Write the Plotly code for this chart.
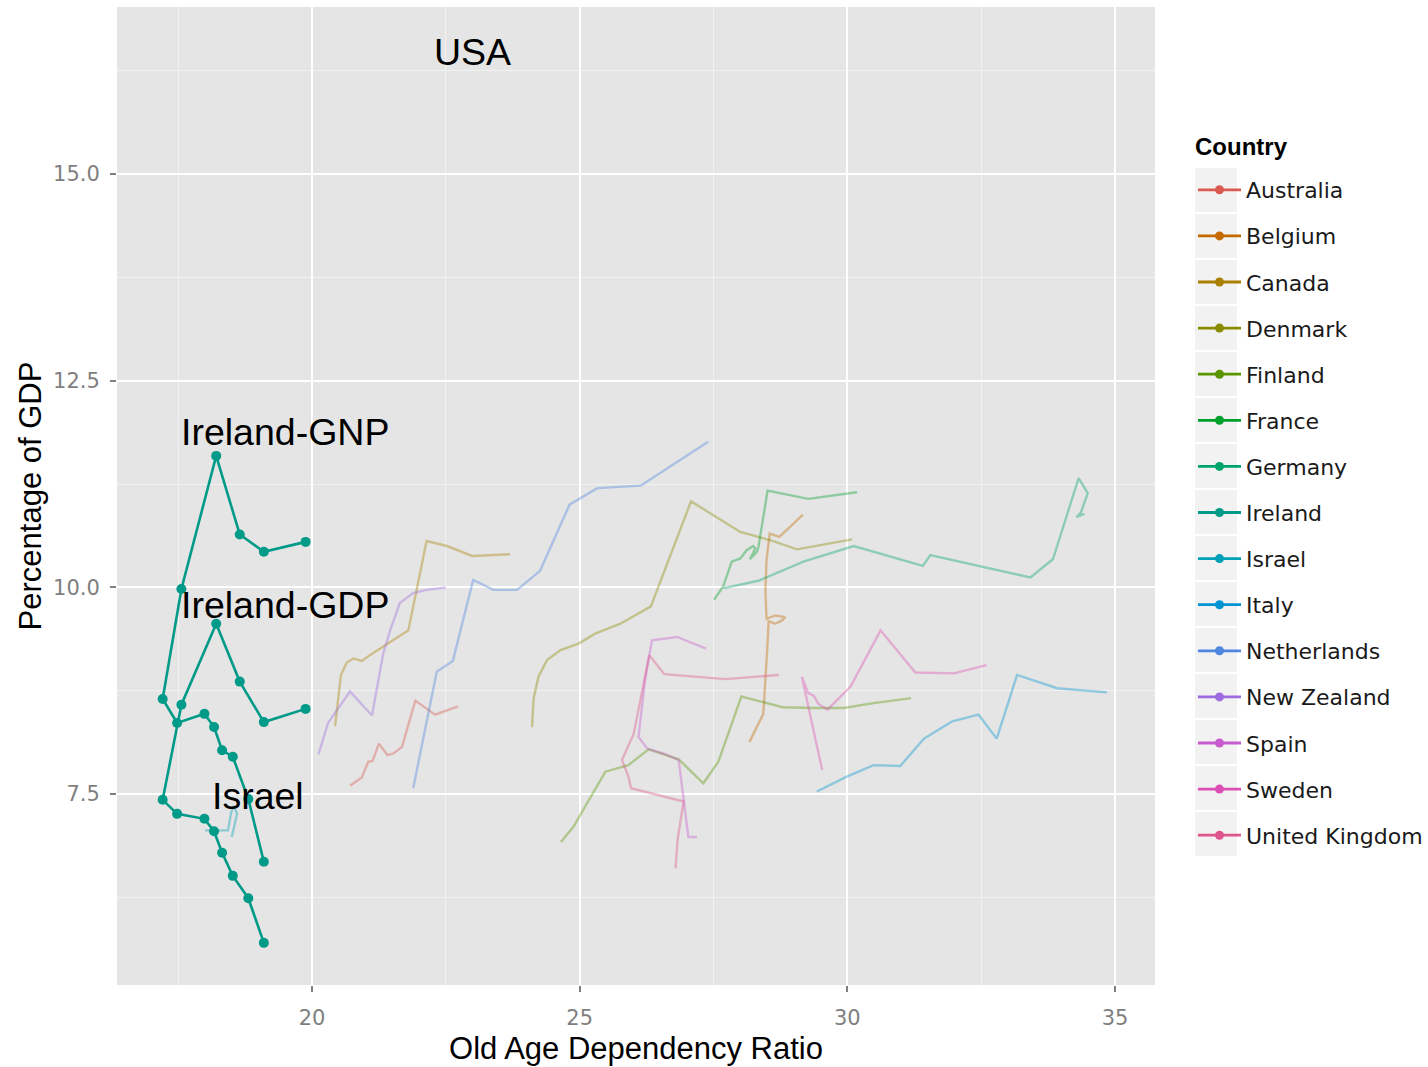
import plotly.graph_objects as go

# ---- data: old-age dependency ratio (x) vs social spending, % of GDP (y) ----
COUNTRIES = ["Australia", "Belgium", "Canada", "Denmark", "Finland", "France",
             "Germany", "Ireland", "Israel", "Italy", "Netherlands",
             "New Zealand", "Spain", "Sweden", "United Kingdom"]

AUS_X = [20.71, 20.93, 21.05, 21.13, 21.25, 21.41, 21.52, 21.68, 21.93, 22.30, 22.73]
AUS_Y = [7.60, 7.70, 7.89, 7.90, 8.11, 7.97, 7.99, 8.07, 8.63, 8.46, 8.56]

BEL_X = [28.17, 28.43, 28.50, 28.53, 28.65, 28.78, 28.84, 28.65, 28.49, 28.47, 28.49, 28.55, 28.73, 29.17]
BEL_Y = [8.13, 8.47, 9.22, 9.59, 9.56, 9.60, 9.64, 9.66, 9.62, 9.97, 10.33, 10.65, 10.61, 10.88]

CAN_X = [20.43, 20.54, 20.65, 20.77, 20.93, 21.08, 21.80, 22.14, 22.52, 22.99, 23.70]
CAN_Y = [8.32, 8.94, 9.09, 9.14, 9.11, 9.18, 9.48, 10.56, 10.50, 10.38, 10.40]

DNK_X = [24.11, 24.14, 24.23, 24.39, 24.64, 24.98, 25.29, 25.76, 26.33, 27.08, 28.00, 28.56, 29.06, 30.09]
DNK_Y = [8.31, 8.66, 8.92, 9.12, 9.24, 9.32, 9.44, 9.56, 9.77, 11.04, 10.67, 10.57, 10.46, 10.58]

FIN_X = [24.65, 24.88, 25.48, 25.91, 26.29, 26.85, 27.31, 27.59, 28.02, 28.41, 28.79, 29.36, 29.93, 30.49, 31.19]
FIN_Y = [6.92, 7.10, 7.77, 7.85, 8.04, 7.92, 7.63, 7.89, 8.68, 8.61, 8.55, 8.54, 8.54, 8.60, 8.66]

FRA_X = [27.51, 27.68, 27.84, 28.00, 28.12, 28.24, 28.28, 28.18, 28.31, 28.34, 28.51, 29.27, 30.18]
FRA_Y = [9.85, 10.01, 10.31, 10.35, 10.45, 10.50, 10.47, 10.34, 10.43, 10.49, 11.17, 11.07, 11.15]

DEU_X = [27.69, 28.34, 29.18, 30.12, 31.41, 31.55, 33.42, 33.84, 34.32, 34.49, 34.36, 34.28, 34.43]
DEU_Y = [9.99, 10.08, 10.31, 10.50, 10.26, 10.39, 10.12, 10.34, 11.32, 11.14, 10.90, 10.85, 10.89]

IRL_X = [19.88, 19.10, 18.65, 18.21, 17.56, 17.21, 17.48, 17.99, 18.17, 18.32, 18.52, 18.81, 19.10]
IRL_GNP_Y = [10.55, 10.43, 10.64, 11.59, 9.98, 8.65, 8.36, 8.47, 8.31, 8.03, 7.95, 7.44, 6.68]
IRL_GDP_Y = [8.53, 8.37, 8.86, 9.56, 8.58, 7.43, 7.26, 7.20, 7.05, 6.79, 6.51, 6.24, 5.70]

ISR_X = [18.00, 18.43, 18.49, 18.54, 18.60, 18.50]
ISR_Y = [7.06, 7.06, 7.28, 7.36, 7.26, 6.98]

ITA_X = [29.43, 29.99, 30.49, 30.99, 31.43, 31.96, 32.45, 32.79, 33.17, 33.92, 34.85]
ITA_Y = [7.53, 7.71, 7.85, 7.84, 8.17, 8.38, 8.46, 8.17, 8.94, 8.78, 8.73]

NLD_X = [21.89, 22.33, 22.63, 23.01, 23.39, 23.83, 24.26, 24.81, 25.33, 26.14, 27.40]
NLD_Y = [7.57, 8.98, 9.11, 10.09, 9.97, 9.97, 10.20, 11.00, 11.20, 11.23, 11.76]

NZL_X = [20.12, 20.30, 20.71, 21.12, 21.33, 21.46, 21.64, 21.89, 22.14, 22.50]
NZL_Y = [7.98, 8.36, 8.74, 8.45, 9.20, 9.48, 9.81, 9.93, 9.97, 10.00]

ESP_X = [27.36, 26.82, 26.35, 26.22, 26.10, 26.26, 26.57, 26.85, 27.03, 27.19]
ESP_Y = [9.26, 9.40, 9.36, 8.88, 8.19, 8.05, 7.99, 7.91, 6.98, 6.98]

SWE_X = [29.53, 29.15, 29.27, 29.37, 29.46, 29.63, 30.06, 30.62, 31.27, 31.99, 32.60]
SWE_Y = [7.79, 8.92, 8.72, 8.69, 8.59, 8.52, 8.80, 9.48, 8.97, 8.96, 9.06]

GBR_X = [28.72, 27.72, 26.58, 26.30, 26.19, 26.01, 25.79, 25.91, 25.96, 26.94, 26.83, 26.79]
GBR_Y = [8.94, 8.89, 8.95, 9.18, 8.82, 8.23, 7.91, 7.71, 7.57, 7.41, 6.95, 6.60]

LABELS = ["USA", "Ireland-GNP", "Ireland-GDP", "Israel"]
LABEL_X = [23.00, 19.50, 19.50, 18.99]
LABEL_Y = [16.48, 11.88, 9.79, 7.48]

X_TICKS = [20, 25, 30, 35]
Y_TICKS = [7.5, 10.0, 12.5, 15.0]
Y_TICK_TEXT = ["7.5", "10.0", "12.5", "15.0"]

# ---- styling ----
PALETTE = {
    "Australia": "#DB5A4F", "Belgium": "#C46A00", "Canada": "#A98000",
    "Denmark": "#8A8B00", "Finland": "#5A9500", "France": "#00A02C",
    "Germany": "#00A46A", "Ireland": "#009A88", "Israel": "#00A0B8",
    "Italy": "#0095D2", "Netherlands": "#4D85E0", "New Zealand": "#9D6BE0",
    "Spain": "#C85ACF", "Sweden": "#DB4FB4", "United Kingdom": "#DE548C",
}

faint_series = [
    ("Australia", AUS_X, AUS_Y), ("Belgium", BEL_X, BEL_Y), ("Canada", CAN_X, CAN_Y),
    ("Denmark", DNK_X, DNK_Y), ("Finland", FIN_X, FIN_Y), ("France", FRA_X, FRA_Y),
    ("Germany", DEU_X, DEU_Y), ("Israel", ISR_X, ISR_Y), ("Italy", ITA_X, ITA_Y),
    ("Netherlands", NLD_X, NLD_Y), ("New Zealand", NZL_X, NZL_Y), ("Spain", ESP_X, ESP_Y),
    ("Sweden", SWE_X, SWE_Y), ("United Kingdom", GBR_X, GBR_Y),
]

fig = go.Figure()

for name, xs, ys in faint_series:
    fig.add_trace(go.Scatter(
        x=xs, y=ys, mode="lines", name=name, showlegend=False,
        line=dict(color=PALETTE[name], width=2.4), opacity=0.38, hoverinfo="skip"))

for ys in (IRL_GNP_Y, IRL_GDP_Y):
    fig.add_trace(go.Scatter(
        x=IRL_X, y=ys, mode="lines+markers", name="Ireland", showlegend=False,
        line=dict(color=PALETTE["Ireland"], width=2.6),
        marker=dict(color=PALETTE["Ireland"], size=10)))

# legend entries: one solid key per country
for name in COUNTRIES:
    fig.add_trace(go.Scatter(
        x=[None], y=[None], mode="lines+markers", name=name,
        legendgroup=name, showlegend=True,
        line=dict(color=PALETTE[name], width=2.8),
        marker=dict(color=PALETTE[name], size=9)))

for text, lx, ly in zip(LABELS, LABEL_X, LABEL_Y):
    fig.add_annotation(x=lx, y=ly, text=text, showarrow=False,
                       font=dict(family="Liberation Sans", size=37.5, color="black"))

# page geometry (px) used to place the legend furniture
W, H, L, T, PW, PH = 1428, 1067, 117, 7, 1038, 978

def px_x(p):
    return (p - L) / PW

def px_y(p):
    return 1 - (p - T) / PH

# legend heading
fig.add_annotation(xref="paper", yref="paper", x=px_x(1193), y=px_y(146),
                   xanchor="left", yanchor="middle", showarrow=False,
                   text="<b>Country</b>",
                   font=dict(family="Liberation Sans", size=24, color="black"))

# light grey boxes behind legend keys
for i, name in enumerate(COUNTRIES):
    cy = 190 + 46 * i
    fig.add_shape(type="rect", xref="paper", yref="paper",
                  x0=px_x(1195), x1=px_x(1237),
                  y0=px_y(cy + 22), y1=px_y(cy - 22),
                  fillcolor="#F2F2F2", line=dict(width=0), layer="below")

axis_common = dict(
    showline=False, zeroline=False, ticks="outside", ticklen=6, tickwidth=1.5,
    tickcolor="#7F7F7F", showgrid=True, gridcolor="white", gridwidth=2,
    tickfont=dict(family="DejaVu Sans", size=21, color="#7F7F7F"),
)

fig.update_xaxes(
    range=[16.357, 35.747], tickvals=X_TICKS, ticktext=[str(v) for v in X_TICKS],
    ticklabelstandoff=8,
    minor=dict(dtick=2.5, tick0=0, showgrid=True, gridcolor="#F2F2F2", gridwidth=1, ticks=""),
    title=dict(text="Old Age Dependency Ratio", standoff=8,
               font=dict(family="Liberation Sans", size=31, color="black")),
    **axis_common)
fig.update_yaxes(
    range=[5.19, 17.02], tickvals=Y_TICKS, ticktext=Y_TICK_TEXT,
    ticklabelstandoff=6,
    minor=dict(dtick=1.25, tick0=0, showgrid=True, gridcolor="#F2F2F2", gridwidth=1, ticks=""),
    title=dict(text="Percentage of GDP", standoff=2,
               font=dict(family="Liberation Sans", size=31, color="black")),
    **axis_common)

fig.update_layout(
    width=W, height=H,
    margin=dict(l=L, r=W - 1155, t=T, b=H - 985, autoexpand=False),
    paper_bgcolor="white", plot_bgcolor="#E5E5E5",
    legend=dict(
        font=dict(family="DejaVu Sans", size=22, color="#1A1A1A"),
        x=px_x(1193), xanchor="left", y=px_y(169), yanchor="top",
        bgcolor="rgba(0,0,0,0)", tracegroupgap=14.5, traceorder="grouped",
        itemwidth=43),
    showlegend=True,
)

fig.write_html("out.html")
